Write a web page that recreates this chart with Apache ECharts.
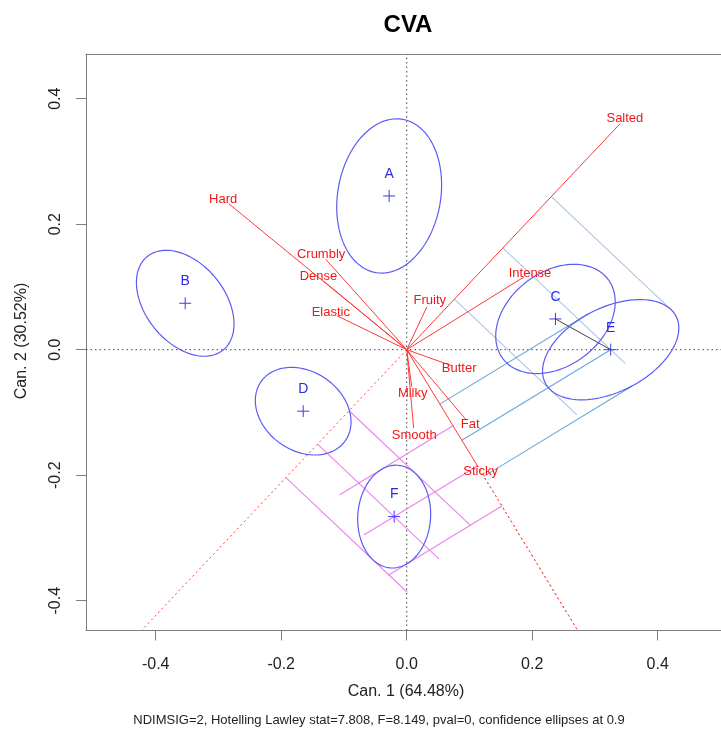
<!DOCTYPE html>
<html>
<head>
<meta charset="utf-8">
<script src="https://cdn.jsdelivr.net/npm/echarts@6/dist/echarts.min.js"></script>
<style>
  html, body { margin: 0; padding: 0; background: #fff; }
  #chart { width: 721px; height: 740px; }
</style>
</head>
<body>
<div id="chart"></div>
<script>
// Group centroids on the first two canonical variates
const groups = ['A', 'B', 'C', 'D', 'E', 'F'];
const groupCan1 = [-0.028, -0.353, 0.237, -0.165, 0.325, -0.020];
const groupCan2 = [0.245, 0.074, 0.049, -0.098, 0.000, -0.266];

// 90% confidence ellipses: semi-axes (canonical units) and orientation (degrees)
const ellMajor = [0.124, 0.096, 0.105, 0.082, 0.117, 0.082];
const ellMinor = [0.082, 0.063, 0.075, 0.063, 0.067, 0.058];
const ellAngle = [80, -51, 37, -35, 27, 86];

// Attribute loadings (arrow tips)
const attributes = ['Hard', 'Crumbly', 'Dense', 'Elastic', 'Fruity', 'Intense', 'Salted', 'Butter', 'Milky', 'Smooth', 'Fat', 'Sticky'];
const attrCan1 = [-0.284, -0.129, -0.132, -0.111, 0.032, 0.187, 0.340, 0.073, 0.008, 0.011, 0.094, 0.112];
const attrCan2 = [0.233, 0.144, 0.109, 0.054, 0.068, 0.116, 0.360, -0.026, -0.059, -0.125, -0.111, -0.184];

// Group ellipses projected onto attribute axes (guide length in canonical units)
const projGroup = ['E', 'E', 'F', 'F'];
const projAttr = ['Salted', 'Sticky', 'Salted', 'Sticky'];
const projLength = [0.268, 0.276, 0.266, 0.212];
const projColor = ['#aec4e2', '#6aa7d8', '#ee82ee', '#ee82ee'];

// Groups joined by a segment
const linkFrom = ['C'];
const linkTo = ['E'];

// Axis ticks
const tickValues = [-0.4, -0.2, 0.0, 0.2, 0.4];

// Plot window (equal aspect)
const xMin = -0.5111, xMax = 0.5008;
const yMin = -0.4475, yMax = 0.4712;

const FONT = '"Liberation Sans", Arial, sans-serif';
const BOX = '#7f7f7f';

// ---- derived geometry ----
function ellipseMatrix(i) {
  const th = ellAngle[i] * Math.PI / 180;
  const c = Math.cos(th), s = Math.sin(th);
  const a2 = ellMajor[i] * ellMajor[i], b2 = ellMinor[i] * ellMinor[i];
  return [a2 * c * c + b2 * s * s, (a2 - b2) * s * c, a2 * s * s + b2 * c * c];
}

function exitDistance(ux, uy, ox, oy) {
  // distance along (ux,uy) from (ox,oy) to the plot border
  const ts = [];
  if (ux > 0) ts.push((xMax - ox) / ux);
  if (ux < 0) ts.push((xMin - ox) / ux);
  if (uy > 0) ts.push((yMax - oy) / uy);
  if (uy < 0) ts.push((yMin - oy) / uy);
  return Math.min.apply(null, ts);
}

const projSegments = [];   // [x1, y1, x2, y2]
const projSegColor = [];
const axisExtSegments = [];
projGroup.forEach((g, k) => {
  const gi = groups.indexOf(g);
  const ai = attributes.indexOf(projAttr[k]);
  const vx = attrCan1[ai], vy = attrCan2[ai];
  const len = Math.hypot(vx, vy);
  const ux = vx / len, uy = vy / len;
  const cx = groupCan1[gi], cy = groupCan2[gi];
  // perpendicular pointing from the axis toward the group
  let wx = -uy, wy = ux;
  if (cx * wx + cy * wy < 0) { wx = -wx; wy = -wy; }
  const m = ellipseMatrix(gi);
  const mux = m[0] * ux + m[1] * uy;
  const muy = m[1] * ux + m[2] * uy;
  const h = Math.sqrt(ux * mux + uy * muy);
  let tLo = Infinity, tHi = -Infinity;
  [-1, 0, 1].forEach(sgn => {
    const t = cx * ux + cy * uy + sgn * h;
    tLo = Math.min(tLo, t); tHi = Math.max(tHi, t);
    const fx = t * ux, fy = t * uy;
    projSegments.push([fx, fy, fx + projLength[k] * wx, fy + projLength[k] * wy]);
    projSegColor.push(projColor[k]);
  });
  if (tHi > len) {
    const d = exitDistance(ux, uy, vx, vy);
    axisExtSegments.push([vx, vy, vx + d * ux, vy + d * uy]);
  }
  if (tLo < 0) {
    const d = exitDistance(-ux, -uy, 0, 0);
    axisExtSegments.push([0, 0, -d * ux, -d * uy]);
  }
});

const linkSegments = linkFrom.map((g, k) => {
  const a = groups.indexOf(g), b = groups.indexOf(linkTo[k]);
  return [groupCan1[a], groupCan2[a], groupCan1[b], groupCan2[b]];
});

function segmentRenderer(colorOf, lineWidth, dash) {
  return function (params, api) {
    const p1 = api.coord([api.value(0), api.value(1)]);
    const p2 = api.coord([api.value(2), api.value(3)]);
    return {
      type: 'line',
      shape: { x1: p1[0], y1: p1[1], x2: p2[0], y2: p2[1] },
      style: { stroke: colorOf(params.dataIndex), lineWidth: lineWidth, lineDash: dash || null }
    };
  };
}

const segEncode = { x: [0, 2], y: [1, 3] };
const tickLabel = v => v.toFixed(1);

const chart = echarts.init(document.getElementById('chart'));
chart.setOption({
  animation: false,
  backgroundColor: '#fff',
  title: [{
    text: 'CVA', left: 403, top: 8, textAlign: 'center',
    textStyle: { fontFamily: FONT, fontSize: 24, fontWeight: 'bold', color: '#000' }
  }],
  graphic: [
    { type: 'text', x: 406, y: 692, style: { text: 'Can. 1 (64.48%)', fontFamily: FONT, fontSize: 16, fill: '#222', align: 'center', verticalAlign: 'middle' } },
    { type: 'text', x: 22, y: 341, rotation: Math.PI / 2, style: { text: 'Can. 2 (30.52%)', fontFamily: FONT, fontSize: 16, fill: '#222', align: 'center', verticalAlign: 'middle' } },
    { type: 'text', x: 379, y: 720, style: { text: 'NDIMSIG=2, Hotelling Lawley stat=7.808, F=8.149, pval=0, confidence ellipses at 0.9', fontFamily: FONT, fontSize: 13, fill: '#222', align: 'center', verticalAlign: 'middle' } }
  ],
  grid: { left: 86, right: 0, top: 54, bottom: 109.5, show: false, containLabel: false },
  xAxis: [{
    type: 'value', min: xMin, max: xMax, position: 'bottom',
    splitLine: { show: false },
    axisLine: { show: true, onZero: false, lineStyle: { color: BOX } },
    axisTick: { show: true, length: 10, customValues: tickValues, lineStyle: { color: BOX } },
    axisLabel: { customValues: tickValues, margin: 26, fontFamily: FONT, fontSize: 16, color: '#222', formatter: tickLabel }
  }, {
    // top edge of the plot box
    type: 'value', min: xMin, max: xMax, position: 'top',
    splitLine: { show: false },
    axisLine: { show: true, onZero: false, lineStyle: { color: BOX } },
    axisTick: { show: false }, axisLabel: { show: false }
  }],
  yAxis: {
    type: 'value', min: yMin, max: yMax,
    splitLine: { show: false },
    axisLine: { show: true, onZero: false, lineStyle: { color: BOX } },
    axisTick: { show: true, length: 10, customValues: tickValues, lineStyle: { color: BOX } },
    axisLabel: { customValues: tickValues, rotate: 90, margin: 22, fontFamily: FONT, fontSize: 16, color: '#222', formatter: tickLabel }
  },
  series: [
    // reference lines through the origin
    {
      type: 'custom', clip: true, silent: true,
      data: [[xMin, 0, xMax, 0], [0, yMin, 0, yMax]], encode: segEncode,
      renderItem: segmentRenderer(() => '#444', 1, [1.5, 3])
    },
    // projections of group ellipses onto attribute axes
    {
      type: 'custom', clip: true, silent: true,
      data: projSegments, encode: segEncode,
      renderItem: segmentRenderer(i => projSegColor[i], 1.1)
    },
    // attribute axes continued beyond the arrows
    {
      type: 'custom', clip: true, silent: true,
      data: axisExtSegments, encode: segEncode,
      renderItem: segmentRenderer(() => '#ff4040', 1, [2, 3])
    },
    // links between groups
    {
      type: 'custom', clip: true, silent: true,
      data: linkSegments, encode: segEncode,
      renderItem: segmentRenderer(() => '#444', 1)
    },
    // confidence ellipses
    {
      type: 'custom', clip: true, silent: true,
      data: groups.map((g, i) => [groupCan1[i], groupCan2[i]]),
      encode: { x: 0, y: 1 },
      renderItem: function (params, api) {
        const i = params.dataIndex;
        const th = ellAngle[i] * Math.PI / 180;
        const pts = [];
        for (let k = 0; k <= 100; k++) {
          const t = 2 * Math.PI * k / 100;
          const ex = ellMajor[i] * Math.cos(t), ey = ellMinor[i] * Math.sin(t);
          pts.push(api.coord([
            groupCan1[i] + ex * Math.cos(th) - ey * Math.sin(th),
            groupCan2[i] + ex * Math.sin(th) + ey * Math.cos(th)
          ]));
        }
        return { type: 'polyline', shape: { points: pts }, style: { fill: null, stroke: '#5c5cf5', lineWidth: 1.2 } };
      }
    },
    // attribute arrows with names
    {
      type: 'custom', clip: true, silent: true,
      data: attributes.map((a, i) => [attrCan1[i], attrCan2[i]]),
      encode: { x: 0, y: 1 },
      renderItem: function (params, api) {
        const i = params.dataIndex;
        const o = api.coord([0, 0]);
        const p = api.coord([attrCan1[i], attrCan2[i]]);
        const dx = p[0] - o[0], dy = p[1] - o[1];
        const L = Math.hypot(dx, dy);
        return {
          type: 'group',
          children: [
            { type: 'line', shape: { x1: o[0], y1: o[1], x2: p[0], y2: p[1] }, style: { stroke: '#ff3838', lineWidth: 1 } },
            { type: 'text', x: p[0] + 7 * dx / L, y: p[1] + 7 * dy / L,
              style: { text: attributes[i], fontFamily: FONT, fontSize: 13, fill: '#f01818', align: 'center', verticalAlign: 'middle' } }
          ]
        };
      }
    },
    // group centroids and names
    {
      type: 'custom', clip: true, silent: true,
      data: groups.map((g, i) => [groupCan1[i], groupCan2[i]]),
      encode: { x: 0, y: 1 },
      renderItem: function (params, api) {
        const i = params.dataIndex;
        const p = api.coord([groupCan1[i], groupCan2[i]]);
        const s = 6;
        return {
          type: 'group',
          children: [
            { type: 'line', shape: { x1: p[0] - s, y1: p[1], x2: p[0] + s, y2: p[1] }, style: { stroke: '#3a3af0', lineWidth: 1 } },
            { type: 'line', shape: { x1: p[0], y1: p[1] - s, x2: p[0], y2: p[1] + s }, style: { stroke: '#3a3af0', lineWidth: 1 } },
            { type: 'text', x: p[0], y: p[1] - 22,
              style: { text: groups[i], fontFamily: FONT, fontSize: 14, fill: '#2a2ae8', align: 'center', verticalAlign: 'middle' } }
          ]
        };
      }
    }
  ]
});
</script>
</body>
</html>
